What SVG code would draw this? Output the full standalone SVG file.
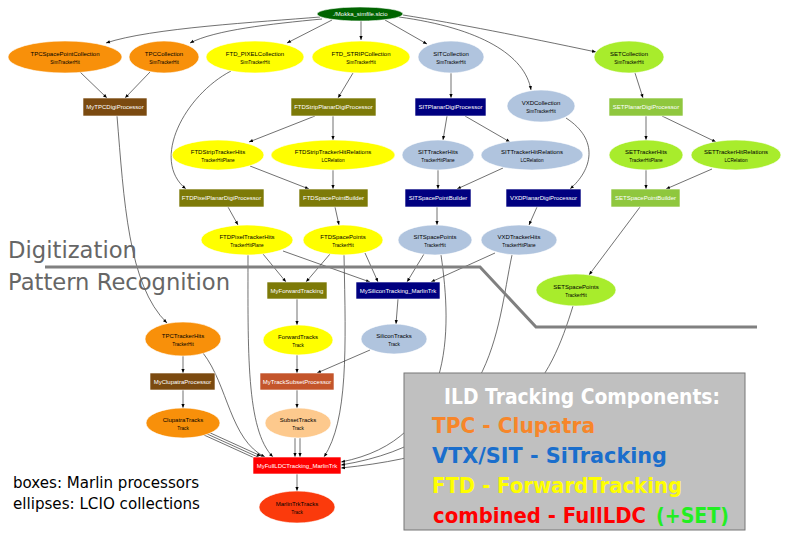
<svg xmlns="http://www.w3.org/2000/svg" width="792" height="536" viewBox="0 0 792 536">
<style>
text{font-family:"Liberation Sans",Arial,sans-serif}
.t{font-size:6px;text-anchor:middle;fill:#000}
.s{font-size:4.7px;text-anchor:middle;fill:#000}
.w{font-size:6px;text-anchor:middle;fill:#fff}
.n{stroke:#fff;stroke-width:0.6}
.or{fill:#f8900a}.ye{fill:#ffff00}.lb{fill:#b0c4de}.gy{fill:#a8ec2c}
.br{fill:#7b4a10}.ol{fill:#7d7a08}.nv{fill:#000080}.yg{fill:#8fc73e}
#edges path{fill:none;stroke:#333;stroke-width:0.7;marker-end:url(#a)}
.big{font-family:"DejaVu Sans",Verdana,sans-serif;font-weight:bold;font-size:21px}
.lab{font-family:"DejaVu Sans",Verdana,sans-serif}
</style>
<defs>
<marker id="a" viewBox="0 0 10 10" refX="10" refY="5" markerWidth="4.5" markerHeight="4" markerUnits="userSpaceOnUse" orient="auto">
<path d="M0,1 L10,5 L0,9 z" fill="#000"/>
</marker>
</defs>
<rect width="792" height="536" fill="#fff"/>

<g id="edges">
<path d="M320,17 C260,22 150,28 106,43"/>
<path d="M322,19 C270,24 215,30 190,43"/>
<path d="M332,20 L287,43"/>
<path d="M361,21 L361,40"/>
<path d="M385,20 L427,44"/>
<path d="M399,17 C480,28 525,55 531,90"/>
<path d="M403,15 C460,24 520,36 596,52"/>
<path d="M80,72 L107,98"/>
<path d="M150,72 L125,98"/>
<path d="M231,71 C185,95 150,160 186,189"/>
<path d="M353,73 L338,98"/>
<path d="M451,73 L451,98"/>
<path d="M635,73 L643,98"/>
<path d="M117,116 C124,200 128,285 167,323"/>
<path d="M315,116 L249,142"/>
<path d="M333,116 L333,140"/>
<path d="M447,116 L443,140"/>
<path d="M465,116 L510,142"/>
<path d="M646,116 L646,140"/>
<path d="M662,116 L716,142"/>
<path d="M566,118 C600,140 592,170 570,189"/>
<path d="M250,166 L309,189"/>
<path d="M333,170 L333,189"/>
<path d="M438,170 L438,189"/>
<path d="M503,168 L457,189"/>
<path d="M646,170 L646,189"/>
<path d="M712,169 L666,189"/>
<path d="M228,207 L238,225"/>
<path d="M335,207 L339,225"/>
<path d="M437,207 L437,225"/>
<path d="M537,207 L529,225"/>
<path d="M640,207 L589,275"/>
<path d="M263,254 L286,282"/>
<path d="M283,251 L370,282"/>
<path d="M330,254 L306,282"/>
<path d="M365,253 L378,282"/>
<path d="M424,254 L407,282"/>
<path d="M495,253 L431,282"/>
<path d="M297,299 L297,325"/>
<path d="M398,299 L396,324"/>
<path d="M297,355 L297,373"/>
<path d="M370,350 L317,373"/>
<path d="M183,356 L183,373"/>
<path d="M183,390 L183,408"/>
<path d="M297,390 L297,408"/>
<path d="M206,431 L261,456"/>
<path d="M205,433 L260,458"/>
<path d="M204,435 L259,460"/>
<path d="M203,353 C228,385 230,440 265,457"/>
<path d="M248,255 C248,350 246,430 273,457"/>
<path d="M295,438 L295,457"/>
<path d="M300,438 L300,457"/>
<path d="M344,255 C346,350 348,420 324,457"/>
<path d="M441,255 C452,330 455,440 341,462"/>
<path d="M512,255 C496,330 496,440 341,465"/>
<path d="M573,306 C550,380 520,450 341,468"/>
<path d="M297,474 L297,491"/>
</g>

<polyline points="45,267 480,267 536,327 757,327" fill="none" stroke="#808080" stroke-width="3"/>

<g id="mokka"><ellipse class="n" cx="360" cy="14" rx="43" ry="7" fill="#006400"/><text class="w" x="360" y="16.2">./Mokka_simfile.slcio</text></g>
<g id="TPCSpacePointCollection"><ellipse class="n or" cx="65" cy="57" rx="57" ry="16"/><text class="t" x="65" y="55.5">TPCSpacePointCollection</text><text class="s" x="65" y="63.5">SimTrackerHit</text></g>
<g id="TPCCollection"><ellipse class="n or" cx="164" cy="57" rx="35" ry="16"/><text class="t" x="164" y="55.5">TPCCollection</text><text class="s" x="164" y="63.5">SimTrackerHit</text></g>
<g id="FTD_PIXELCollection"><ellipse class="n ye" cx="255" cy="57" rx="49" ry="16"/><text class="t" x="255" y="55.5">FTD_PIXELCollection</text><text class="s" x="255" y="63.5">SimTrackerHit</text></g>
<g id="FTD_STRIPCollection"><ellipse class="n ye" cx="361" cy="57" rx="49" ry="16"/><text class="t" x="361" y="55.5">FTD_STRIPCollection</text><text class="s" x="361" y="63.5">SimTrackerHit</text></g>
<g id="SITCollection"><ellipse class="n lb" cx="451" cy="57" rx="33" ry="16"/><text class="t" x="451" y="55.5">SITCollection</text><text class="s" x="451" y="63.5">SimTrackerHit</text></g>
<g id="SETCollection"><ellipse class="n gy" cx="629" cy="57" rx="35" ry="16"/><text class="t" x="629" y="55.5">SETCollection</text><text class="s" x="629" y="63.5">SimTrackerHit</text></g>
<g id="VXDCollection"><ellipse class="n lb" cx="541" cy="106" rx="34" ry="16"/><text class="t" x="541" y="104.5">VXDCollection</text><text class="s" x="541" y="112.5">SimTrackerHit</text></g>

<g id="MyTPCDigiProcessor"><rect class="n br" x="83" y="98" width="64" height="18"/><text class="w" x="115" y="109">MyTPCDigiProcessor</text></g>
<g id="FTDStripPlanarDigiProcessor"><rect class="n ol" x="291" y="98" width="85" height="18"/><text class="w" x="333.5" y="109">FTDStripPlanarDigiProcessor</text></g>
<g id="SITPlanarDigiProcessor"><rect class="n nv" x="415" y="98" width="71" height="18"/><text class="w" x="450.5" y="109">SITPlanarDigiProcessor</text></g>
<g id="SETPlanarDigiProcessor"><rect class="n yg" x="609" y="98" width="74" height="18"/><text class="w" x="646" y="109">SETPlanarDigiProcessor</text></g>

<g id="FTDStripTrackerHits"><ellipse class="n ye" cx="218" cy="155" rx="46" ry="15"/><text class="t" x="218" y="153.5">FTDStripTrackerHits</text><text class="s" x="218" y="161.5">TrackerHitPlane</text></g>
<g id="FTDStripTrackerHitRelations"><ellipse class="n ye" cx="333" cy="155" rx="62" ry="15"/><text class="t" x="333" y="153.5">FTDStripTrackerHitRelations</text><text class="s" x="333" y="161.5">LCRelation</text></g>
<g id="SITTrackerHits"><ellipse class="n lb" cx="438" cy="155" rx="36" ry="15"/><text class="t" x="438" y="153.5">SITTrackerHits</text><text class="s" x="438" y="161.5">TrackerHitPlane</text></g>
<g id="SITTrackerHitRelations"><ellipse class="n lb" cx="532" cy="155" rx="51" ry="15"/><text class="t" x="532" y="153.5">SITTrackerHitRelations</text><text class="s" x="532" y="161.5">LCRelation</text></g>
<g id="SETTrackerHits"><ellipse class="n gy" cx="646" cy="155" rx="37" ry="15"/><text class="t" x="646" y="153.5">SETTrackerHits</text><text class="s" x="646" y="161.5">TrackerHitPlane</text></g>
<g id="SETTrackerHitRelations"><ellipse class="n gy" cx="736" cy="155" rx="45" ry="15"/><text class="t" x="736" y="153.5">SETTrackerHitRelations</text><text class="s" x="736" y="161.5">LCRelation</text></g>

<g id="FTDPixelPlanarDigiProcessor"><rect class="n ol" x="179" y="189" width="85" height="18"/><text class="w" x="221.5" y="200">FTDPixelPlanarDigiProcessor</text></g>
<g id="FTDSpacePointBuilder"><rect class="n ol" x="299" y="189" width="69" height="18"/><text class="w" x="333.5" y="200">FTDSpacePointBuilder</text></g>
<g id="SITSpacePointBuilder"><rect class="n nv" x="405" y="189" width="66" height="18"/><text class="w" x="438" y="200">SITSpacePointBuilder</text></g>
<g id="VXDPlanarDigiProcessor"><rect class="n nv" x="506" y="189" width="75" height="18"/><text class="w" x="543.5" y="200">VXDPlanarDigiProcessor</text></g>
<g id="SETSpacePointBuilder"><rect class="n yg" x="611" y="189" width="69" height="18"/><text class="w" x="645.5" y="200">SETSpacePointBuilder</text></g>

<g id="FTDPixelTrackerHits"><ellipse class="n ye" cx="247" cy="240" rx="46" ry="15"/><text class="t" x="247" y="238.5">FTDPixelTrackerHits</text><text class="s" x="247" y="246.5">TrackerHitPlane</text></g>
<g id="FTDSpacePoints"><ellipse class="n ye" cx="343" cy="240" rx="40" ry="15"/><text class="t" x="343" y="238.5">FTDSpacePoints</text><text class="s" x="343" y="246.5">TrackerHit</text></g>
<g id="SITSpacePoints"><ellipse class="n lb" cx="435" cy="240" rx="37" ry="15"/><text class="t" x="435" y="238.5">SITSpacePoints</text><text class="s" x="435" y="246.5">TrackerHit</text></g>
<g id="VXDTrackerHits"><ellipse class="n lb" cx="519" cy="240" rx="38" ry="15"/><text class="t" x="519" y="238.5">VXDTrackerHits</text><text class="s" x="519" y="246.5">TrackerHitPlane</text></g>
<g id="SETSpacePoints"><ellipse class="n gy" cx="576" cy="290" rx="40" ry="16"/><text class="t" x="576" y="288.5">SETSpacePoints</text><text class="s" x="576" y="296.5">TrackerHit</text></g>

<g id="MyForwardTracking"><rect class="n ol" x="267" y="282" width="60" height="17"/><text class="w" x="297" y="292.5">MyForwardTracking</text></g>
<g id="MySiliconTracking_MarlinTrk"><rect class="n nv" x="356" y="282" width="84" height="17"/><text class="w" x="398" y="292.5">MySiliconTracking_MarlinTrk</text></g>
<g id="ForwardTracks"><ellipse class="n ye" cx="298" cy="340" rx="35" ry="15"/><text class="t" x="298" y="338.5">ForwardTracks</text><text class="s" x="298" y="346.5">Track</text></g>
<g id="SiliconTracks"><ellipse class="n lb" cx="394" cy="339" rx="33" ry="15"/><text class="t" x="394" y="337.5">SiliconTracks</text><text class="s" x="394" y="345.5">Track</text></g>
<g id="TPCTrackerHits"><ellipse class="n or" cx="183" cy="339" rx="38" ry="17"/><text class="t" x="183" y="337.5">TPCTrackerHits</text><text class="s" x="183" y="345.5">TrackerHit</text></g>
<g id="MyClupatraProcessor"><rect class="n br" x="150" y="373" width="65" height="17"/><text class="w" x="182.5" y="383.5">MyClupatraProcessor</text></g>
<g id="MyTrackSubsetProcessor"><rect class="n" x="260" y="373" width="74" height="17" fill="#c4552b"/><text class="w" x="297" y="383.5">MyTrackSubsetProcessor</text></g>
<g id="ClupatraTracks"><ellipse class="n or" cx="183" cy="423" rx="37" ry="15"/><text class="t" x="183" y="421.5">ClupatraTracks</text><text class="s" x="183" y="429.5">Track</text></g>
<g id="SubsetTracks"><ellipse class="n" cx="298" cy="423" rx="33" ry="15" fill="#fdc98d"/><text class="t" x="298" y="421.5">SubsetTracks</text><text class="s" x="298" y="429.5">Track</text></g>
<g id="MyFullLDCTracking_MarlinTrk"><rect class="n" x="253" y="457" width="88" height="17" fill="#ff0000"/><text class="w" x="297" y="467.5">MyFullLDCTracking_MarlinTrk</text></g>
<g id="MarlinTrkTracks"><ellipse class="n" cx="297" cy="507" rx="38" ry="16" fill="#fb3a0c"/><text class="t" x="297" y="505.5">MarlinTrkTracks</text><text class="s" x="297" y="513.5">Track</text></g>

<g id="components">
<rect x="404" y="373" width="341" height="157" fill="#c0c0c0" stroke="#777" stroke-width="1"/>
<text class="big" x="444" y="404" fill="#fff" textLength="276" lengthAdjust="spacingAndGlyphs">ILD Tracking Components:</text>
<text class="big" x="432" y="433" fill="#f7862a" textLength="163" lengthAdjust="spacingAndGlyphs">TPC - Clupatra</text>
<text class="big" x="432" y="463" fill="#1a6ecc" textLength="235" lengthAdjust="spacingAndGlyphs">VTX/SIT - SiTracking</text>
<text class="big" x="432" y="493" fill="#ffff00" textLength="250" lengthAdjust="spacingAndGlyphs">FTD - ForwardTracking</text>
<text class="big" x="433" y="523" fill="#ff0000" textLength="213" lengthAdjust="spacingAndGlyphs">combined - FullLDC</text>
<text class="big" x="656" y="523" fill="#22ee22" textLength="73" lengthAdjust="spacingAndGlyphs">(+SET)</text>
</g>

<text class="lab" x="8" y="258" font-size="23" fill="#666" textLength="129" lengthAdjust="spacingAndGlyphs">Digitization</text>
<text class="lab" x="8" y="290" font-size="23" fill="#666" textLength="222" lengthAdjust="spacingAndGlyphs">Pattern Recognition</text>
<text class="lab" x="13" y="488" font-size="16" fill="#000" textLength="186" lengthAdjust="spacingAndGlyphs">boxes: Marlin processors</text>
<text class="lab" x="13" y="509" font-size="16" fill="#000" textLength="187" lengthAdjust="spacingAndGlyphs">ellipses: LCIO collections</text>
</svg>
